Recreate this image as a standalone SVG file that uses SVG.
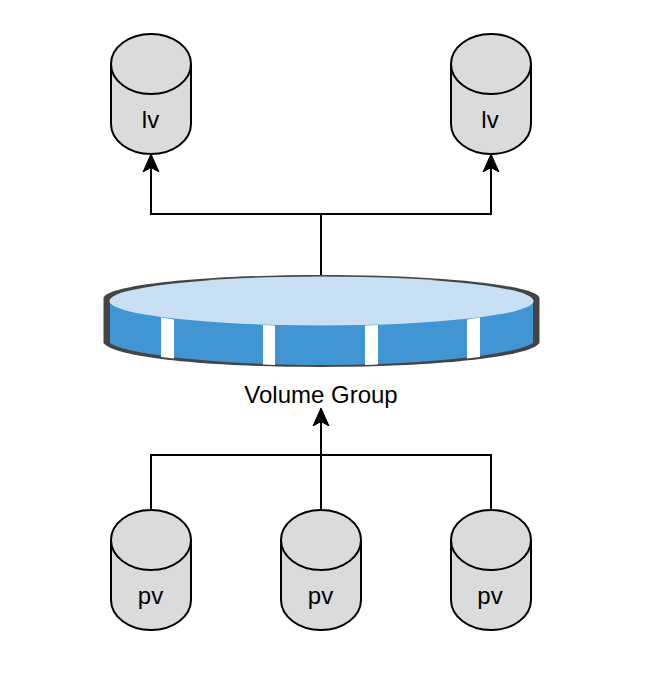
<svg xmlns="http://www.w3.org/2000/svg" width="648" height="688" viewBox="0 0 648 688">
<style>
.cyl{fill:#dbdbdb;stroke:#000;stroke-width:2}
.cyl-top{fill:none;stroke:#000;stroke-width:2}
.lbl{font-family:"Liberation Sans",Arial,sans-serif;font-size:24px;fill:#000;text-anchor:middle}
.conn{fill:none;stroke:#000;stroke-width:2}
</style>
<defs>
<marker id="arrow" markerUnits="userSpaceOnUse" markerWidth="20" markerHeight="20" refX="17" refY="9" orient="auto">
<path d="M0 1 L18 9 L0 17 L4.500 9 Z" fill="#000" stroke="#000" stroke-width="1"/>
</marker>
</defs>
<g id="connectors">
<path class="conn" d="M321 275V214H151V155" marker-end="url(#arrow)"/>
<path class="conn" d="M321 214H491V155" marker-end="url(#arrow)"/>
<path class="conn" d="M151 510V455H321V409" marker-end="url(#arrow)"/>
<path class="conn" d="M321 510V410"/>
<path class="conn" d="M491 510V455H321"/>
</g>
<g id="volume-group">
<path d="M103.500 298C106 285 205 275 321 275S537 285 539.500 298V343C530 357 437 367 321 367S113 357 103.500 343Z" fill="#444"/>
<path d="M110 302C130 315 220 325 321 325S512 315 533 302V343C515 355 420 365 321 365S127 355 110 343Z" fill="#4195d2"/>
<ellipse cx="321.500" cy="301" rx="212" ry="24.500" fill="#c9dff4"/>
<path d="M161 317.500L174 319.500V358.500L161 357Z M263 325L275 325.500V365L263 364.500Z M365 325.500L378 325V364.500L365 365Z M467 319.500L480 317.500V357L467 358.500Z" fill="#fff"/>
<text class="lbl" x="321" y="403">Volume Group</text>
</g>
<g id="lv-left">
<path class="cyl" d="M111 64A40 30 0 0 1 191 64V124A40 30 0 0 1 111 124Z"/>
<path class="cyl-top" d="M111 64A40 30 0 0 0 191 64"/>
<text class="lbl" x="150.500" y="128">lv</text>
</g>
<g id="lv-right">
<path class="cyl" d="M451 64A40 30 0 0 1 531 64V124A40 30 0 0 1 451 124Z"/>
<path class="cyl-top" d="M451 64A40 30 0 0 0 531 64"/>
<text class="lbl" x="490" y="128">lv</text>
</g>
<g id="pv-left">
<path class="cyl" d="M111 540A40 30 0 0 1 191 540V600A40 30 0 0 1 111 600Z"/>
<path class="cyl-top" d="M111 540A40 30 0 0 0 191 540"/>
<text class="lbl" x="150.500" y="604">pv</text>
</g>
<g id="pv-center">
<path class="cyl" d="M281 540A40 30 0 0 1 361 540V600A40 30 0 0 1 281 600Z"/>
<path class="cyl-top" d="M281 540A40 30 0 0 0 361 540"/>
<text class="lbl" x="320.500" y="604">pv</text>
</g>
<g id="pv-right">
<path class="cyl" d="M451 540A40 30 0 0 1 531 540V600A40 30 0 0 1 451 600Z"/>
<path class="cyl-top" d="M451 540A40 30 0 0 0 531 540"/>
<text class="lbl" x="490" y="604">pv</text>
</g>
</svg>
